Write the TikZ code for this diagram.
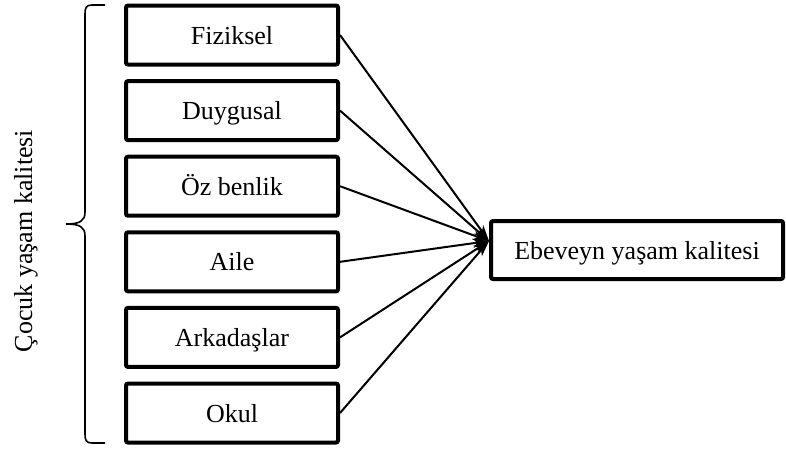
\documentclass[tikz,border=0pt]{standalone}
\usepackage{fontspec}
\setmainfont{Liberation Serif}
\usetikzlibrary{arrows.meta}
\begin{document}
\begin{tikzpicture}[x=1pt,y=-1pt,
  itembox/.style={draw,line width=4pt,rounded corners=2pt,minimum width=212pt,minimum height=59pt,inner sep=0pt,text height=22pt,text depth=4pt,font=\fontsize{26}{30}\selectfont},
  conn/.style={line width=2pt,-{Stealth[length=16pt,width=9pt,inset=4pt]}},
  bracepath/.style={line width=1.6pt}]
\useasboundingbox (0,0) rectangle (786,451);
\node[itembox] (b1) at (232,35) {Fiziksel};
\node[itembox] (b2) at (232,110.6) {Duygusal};
\node[itembox] (b3) at (232,186.2) {Öz benlik};
\node[itembox] (b4) at (232,261.8) {Aile};
\node[itembox] (b5) at (232,337.4) {Arkadaşlar};
\node[itembox] (b6) at (232,413) {Okul};
\node[itembox,minimum width=292pt,minimum height=58pt] (out) at (637,250) {Ebeveyn yaşam kalitesi};
\coordinate (tip) at (489,241);
\foreach \i in {1,...,6}{\draw[conn] (b\i.east) -- (tip);}
\draw[bracepath] (105,5) -- (92,5) .. controls (86,5) and (85,8) .. (85,14) -- (85,212) .. controls (85,221) and (80,224) .. (66,224)
  (66,224) .. controls (80,224) and (85,227) .. (85,236) -- (85,434) .. controls (85,440) and (86,443) .. (92,443) -- (105,443);
\node[rotate=90,font=\fontsize{26}{30}\selectfont] (lbl) at (26,241) {Çocuk yaşam kalitesi};
\end{tikzpicture}
\end{document}
